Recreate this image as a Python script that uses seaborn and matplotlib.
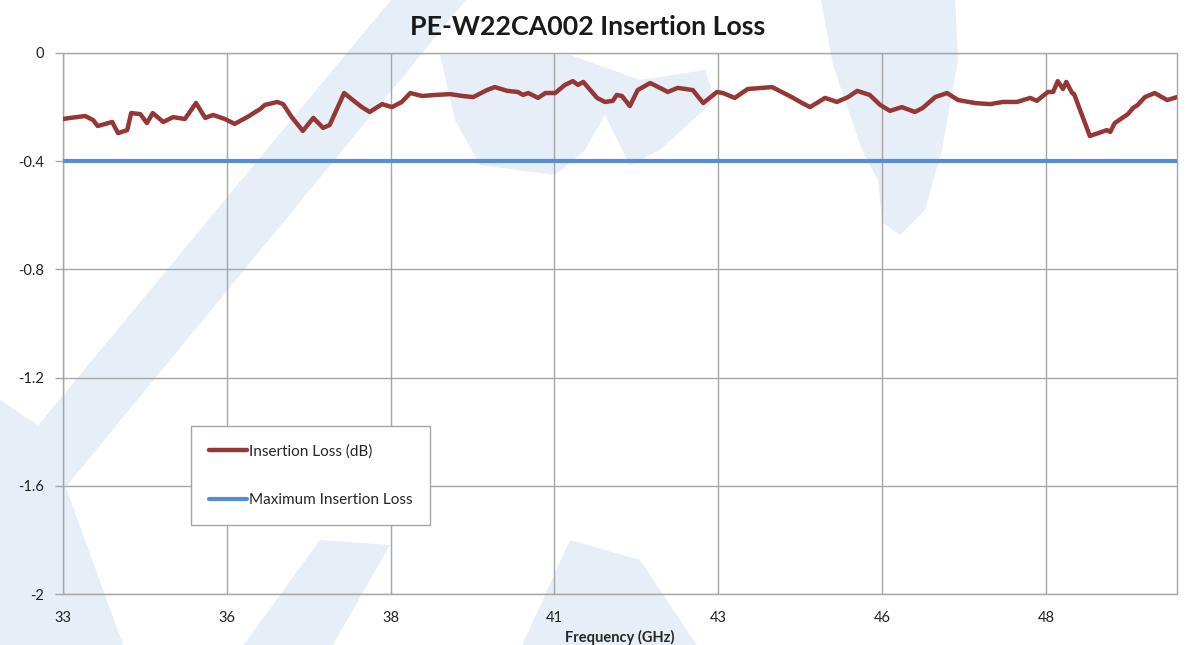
import numpy as np
import pandas as pd
import matplotlib
matplotlib.use("Agg")
import matplotlib.pyplot as plt
from matplotlib.patches import Polygon
import seaborn as sns

# ---- data ----
freq_ghz = [33.00, 33.11, 33.34, 33.46, 33.53, 33.75, 33.84, 33.98, 34.04, 34.18,
            34.28, 34.37, 34.53, 34.68, 34.86, 35.03, 35.17, 35.29, 35.47, 35.62,
            35.81, 36.01, 36.08, 36.27, 36.36, 36.49, 36.66, 36.82, 36.97, 37.07,
            37.29, 37.46, 37.56, 37.68, 37.87, 38.02, 38.17, 38.30, 38.48, 38.68,
            38.91, 39.10, 39.26, 39.47, 39.59, 39.78, 39.94, 40.02, 40.10, 40.25,
            40.36, 40.51, 40.66, 40.78, 40.86, 40.94, 41.15, 41.27, 41.39, 41.45,
            41.53, 41.65, 41.77, 41.96, 42.11, 42.23, 42.38, 42.61, 42.77, 42.98,
            43.07, 43.25, 43.45, 43.67, 43.82, 43.91, 44.12, 44.28, 44.40, 44.63,
            44.81, 44.98, 45.12, 45.31, 45.47, 45.62, 45.80, 46.00, 46.12, 46.31,
            46.49, 46.66, 46.92, 47.15, 47.34, 47.56, 47.76, 47.86, 48.03, 48.11,
            48.18, 48.26, 48.31, 48.40, 48.43, 48.67, 48.93, 48.98, 49.05, 49.25,
            49.33, 49.40, 49.51, 49.66, 49.85, 50.00]
insertion_loss_db = [-0.244, -0.240, -0.233, -0.248, -0.270, -0.255, -0.296, -0.285, -0.222, -0.226,
                     -0.259, -0.222, -0.255, -0.237, -0.244, -0.185, -0.240, -0.229, -0.244, -0.262,
                     -0.237, -0.207, -0.192, -0.181, -0.189, -0.237, -0.288, -0.240, -0.277, -0.266,
                     -0.148, -0.181, -0.200, -0.218, -0.189, -0.200, -0.181, -0.148, -0.159, -0.155,
                     -0.152, -0.159, -0.163, -0.137, -0.126, -0.140, -0.144, -0.155, -0.148, -0.166,
                     -0.148, -0.148, -0.118, -0.104, -0.118, -0.107, -0.166, -0.181, -0.177, -0.155,
                     -0.159, -0.196, -0.137, -0.111, -0.129, -0.144, -0.129, -0.137, -0.185, -0.144,
                     -0.148, -0.166, -0.133, -0.129, -0.126, -0.137, -0.163, -0.185, -0.200, -0.166,
                     -0.181, -0.163, -0.140, -0.155, -0.192, -0.214, -0.200, -0.218, -0.203, -0.163,
                     -0.148, -0.174, -0.185, -0.189, -0.181, -0.181, -0.166, -0.177, -0.144, -0.144,
                     -0.104, -0.133, -0.107, -0.148, -0.152, -0.307, -0.285, -0.292, -0.259, -0.226,
                     -0.203, -0.192, -0.163, -0.148, -0.174, -0.163]
max_insertion_loss_db = -0.4

x_tick_positions = [33, 35.5, 38, 40.5, 43, 45.5, 48]
x_tick_labels = ["33", "36", "38", "41", "43", "46", "48"]
y_ticks = [0, -0.4, -0.8, -1.2, -1.6, -2]
y_tick_labels = ["0", "-0.4", "-0.8", "-1.2", "-1.6", "-2"]

title = "PE-W22CA002 Insertion Loss"
x_label = "Frequency (GHz)"
series_name = "Insertion Loss (dB)"
limit_name = "Maximum Insertion Loss"

# ---- style ----
sns.set_style("white")
plt.rcParams["font.family"] = ["Lato", "DejaVu Sans"]

W, H = 1204, 645
fig = plt.figure(figsize=(W / 100, H / 100), dpi=100)

# faint background watermark (decoration) in a background axes, pixel coords (y down)
bg = fig.add_axes([0, 0, 1, 1], zorder=-10)
bg.set_xlim(0, W)
bg.set_ylim(H, 0)
bg.axis("off")
wm_color = "#E6EEF7"
wm_shapes = [
    [(395, -5), (470, -5), (-60, 640), (-140, 640)],
    [(0, 400), (45, 430), (125, 650), (0, 650)],
    [(240, 650), (330, 650), (390, 545), (320, 540)],
    [(520, 650), (700, 650), (640, 560), (570, 540)],
    [(440, 55), (570, 55), (640, 80), (705, 70), (715, 100), (660, 150),
     (630, 165), (605, 115), (585, 150), (555, 175), (480, 165), (455, 120)],
    [(820, -5), (955, -5), (958, 60), (942, 150), (925, 210), (900, 235),
     (882, 222), (878, 180), (862, 150), (833, 65)],
]
for pts in wm_shapes:
    bg.add_patch(Polygon(pts, closed=True, facecolor=wm_color, edgecolor="none"))

ax = fig.add_axes([63 / W, 1 - 594 / H, (1177 - 63) / W, (594 - 53) / H], zorder=1)
ax.set_facecolor("none")

df = pd.DataFrame({"freq": freq_ghz, "loss": insertion_loss_db})
sns.lineplot(data=df, x="freq", y="loss", ax=ax, color="#953735", linewidth=3.2,
             label=series_name, zorder=5, solid_joinstyle="round", solid_capstyle="round")
ax.axhline(max_insertion_loss_db, color="#558ED5", linewidth=3.0, label=limit_name, zorder=4)

ax.set_xlim(33, 50)
ax.set_ylim(-2, 0)
ax.set_xticks(x_tick_positions)
ax.set_xticklabels(x_tick_labels, fontsize=10.5, color="#222222")
ax.set_yticks(y_ticks)
ax.set_yticklabels(y_tick_labels, fontsize=10.5, color="#222222")
ax.tick_params(axis="y", length=6, width=1, color="#A6A6A6", pad=8, direction="out", left=True)
ax.tick_params(axis="x", length=0, pad=12)
ax.grid(True, color="#A6A6A6", linewidth=1.0)
for s in ax.spines.values():
    s.set_color("#A6A6A6")
    s.set_linewidth(1.0)

ax.set_xlabel(x_label, fontsize=10.5, fontweight="bold", labelpad=4)
ax.set_ylabel("")
fig.suptitle(title, x=588 / W, y=1 - 15 / H, va="top", fontsize=19.3, fontweight="bold", color="#1a1a1a")

leg = ax.legend(loc="lower left", bbox_to_anchor=((191 - 63) / 1114, (594 - 525) / 541),
                frameon=True, fancybox=False, edgecolor="#A6A6A6", facecolor="white",
                framealpha=1.0, fontsize=11, handlelength=2.5, handletextpad=0.15,
                labelspacing=2.3, borderpad=1.15, borderaxespad=0)
leg.get_frame().set_linewidth(1.0)
leg.set_zorder(10)

fig.savefig("out.png", dpi=100)
